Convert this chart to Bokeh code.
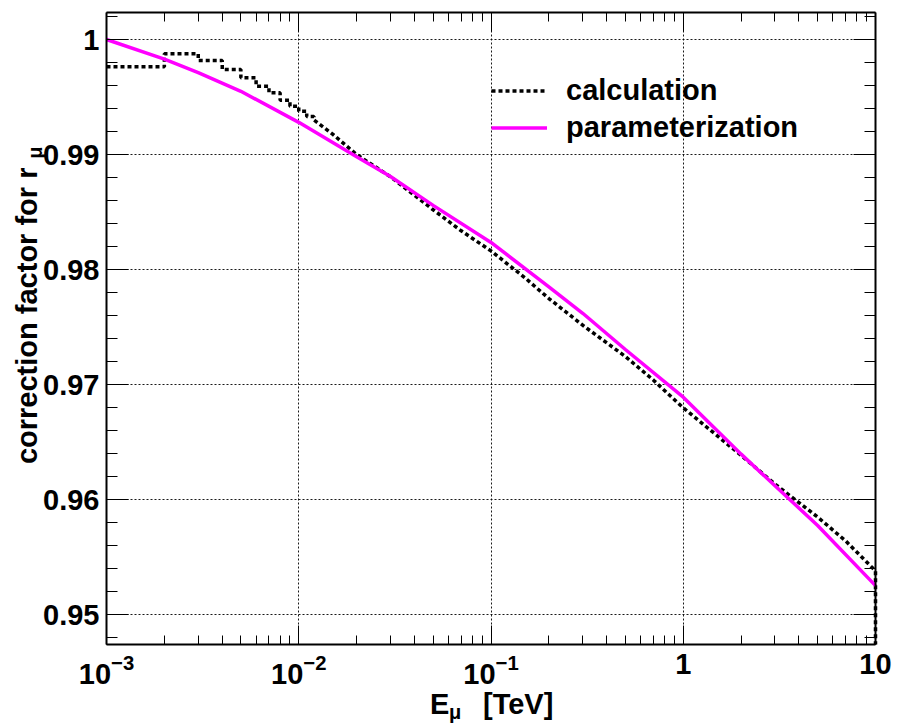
import math
from bokeh.plotting import figure
from bokeh.models import (Range1d, FixedTicker, LinearAxis, LogAxis, Label, Legend, LegendItem)
from bokeh.embed import file_html
from bokeh.resources import INLINE

# ---------------- data ----------------
# low-energy part of the calculation: histogram with linear bins of 1 GeV
calc_bin_edges = [0.001, 0.002, 0.003, 0.004, 0.005, 0.006, 0.007, 0.008, 0.009, 0.010, 0.011, 0.012]
calc_bin_vals = [0.99763, 0.99876, 0.99817, 0.99739, 0.99667, 0.99594, 0.99537, 0.99472, 0.99420, 0.99377, 0.99330]
# higher energies (bins too dense to resolve)
calc_E = [0.012, 0.015, 0.02, 0.03, 0.05, 0.07, 0.1, 0.15, 0.2, 0.3, 0.5, 0.7, 1.0, 2.0, 3.0, 5.0, 7.0, 10.0]
calc_vals = [0.99300, 0.99178, 0.99000, 0.98807, 0.98520, 0.98337, 0.98162, 0.97929, 0.97748, 0.97516,
             0.97244, 0.97038, 0.96798, 0.96384, 0.96135, 0.95848, 0.95640, 0.95380]

par_E = [0.001, 0.002, 0.003, 0.005, 0.01, 0.02, 0.03, 0.05, 0.1, 0.2, 0.3, 0.5, 1.0, 2.0, 3.0, 5.0, 10.0]
par_vals = [1.0, 0.99830, 0.99712, 0.99550, 0.99280, 0.98980, 0.98809, 0.98558, 0.98236, 0.97850,
            0.97620, 0.97305, 0.96890, 0.96395, 0.96120, 0.95775, 0.95252]

x_major = [1e-3, 1e-2, 1e-1, 1.0, 10.0]
y_major = [0.95, 0.96, 0.97, 0.98, 0.99, 1.0]
y_tick_labels = ["0.95", "0.96", "0.97", "0.98", "0.99", "1"]

X0, X1 = 1e-3, 10.0          # axis box, x
Y0, Y1 = 0.94740, 1.00235    # axis box, y

FONT = "Liberation Sans"

# ---------------- geometry (pixels inside the figure) ----------------
W, H = 895, 724
BOX_L, BOX_R, BOX_T, BOX_B = 106, 875, 12, 644
dec_px = (BOX_R - BOX_L) / (math.log10(X1) - math.log10(X0))
xr0 = 10 ** (math.log10(X0) - BOX_L / dec_px)
xr1 = 10 ** (math.log10(X1) + (W - BOX_R) / dec_px)
ppu = (BOX_B - BOX_T) / (Y1 - Y0)
yr1 = Y1 + BOX_T / ppu
yr0 = Y0 - (H - BOX_B) / ppu

p = figure(width=W, height=H, x_axis_type="log",
           x_range=Range1d(xr0, xr1), y_range=Range1d(yr0, yr1),
           output_backend="svg", toolbar_location=None,
           min_border_left=0, min_border_right=0, min_border_top=0, min_border_bottom=0)
p.title.visible = False
p.background_fill_color = "white"
p.border_fill_color = "white"
p.outline_line_color = None

x_minor = [m * 10.0 ** d for d in range(-3, 1) for m in range(2, 10)]
y_minor = [round(0.948 + 0.002 * k, 4) for k in range(28)]
xt = FixedTicker(ticks=x_major, minor_ticks=x_minor)
yt = FixedTicker(ticks=y_major, minor_ticks=y_minor)

bottom_axis = p.xaxis[0]
left_axis = p.yaxis[0]
top_axis = LogAxis()
right_axis = LinearAxis()
p.add_layout(top_axis, "above")
p.add_layout(right_axis, "right")

bottom_axis.fixed_location = Y0
top_axis.fixed_location = Y1
left_axis.fixed_location = X0
right_axis.fixed_location = X1

for ax in [bottom_axis, top_axis]:
    ax.ticker = xt
    ax.bounds = (X0, X1)
    ax.major_tick_in = 19
    ax.minor_tick_in = 9
for ax in [left_axis, right_axis]:
    ax.ticker = yt
    ax.bounds = (Y0, Y1)
    ax.major_tick_in = 22
    ax.minor_tick_in = 11
for ax in [bottom_axis, top_axis, left_axis, right_axis]:
    ax.major_tick_out = 0
    ax.minor_tick_out = 0
    ax.axis_line_width = 2
    ax.axis_line_color = "black"
    ax.major_tick_line_color = "black"
    ax.minor_tick_line_color = "black"
    ax.major_tick_line_width = 1
    ax.minor_tick_line_width = 1
    ax.major_label_text_font = FONT
    ax.major_label_text_font_style = "bold"
    ax.major_label_text_font_size = "29px"
    ax.major_label_text_color = "black"

bottom_axis.major_label_overrides = {1.0: "1", 10.0: "10"}
bottom_axis.major_label_standoff = 9
left_axis.major_label_overrides = {v: s for v, s in zip(y_major, y_tick_labels)}
left_axis.major_label_standoff = 7
top_axis.major_label_overrides = {v: " " for v in x_major}
top_axis.major_label_text_alpha = 0
right_axis.major_label_overrides = {v: " " for v in y_major}
right_axis.major_label_text_alpha = 0

p.xgrid.grid_line_color = "black"
p.ygrid.grid_line_color = "black"
p.grid.grid_line_width = 1
p.grid.grid_line_dash = "2 2"
p.grid.grid_line_alpha = 0.9
try:
    p.xgrid.cross_bounds = (Y0, Y1)
    p.ygrid.cross_bounds = (X0, X1)
except Exception:
    p.xgrid.visible = False
    p.ygrid.visible = False
    p.segment(x0=x_major, x1=x_major, y0=[Y0] * len(x_major), y1=[Y1] * len(x_major),
              line_color="black", line_width=1, line_dash="2 2", line_alpha=0.9)
    p.segment(x0=[X0] * len(y_major), x1=[X1] * len(y_major), y0=y_major, y1=y_major,
              line_color="black", line_width=1, line_dash="2 2", line_alpha=0.9)

# ---------------- curves ----------------
cx, cy = [], []
for i, v in enumerate(calc_bin_vals):
    cx += [calc_bin_edges[i], calc_bin_edges[i + 1]]
    cy += [v, v]
cx += calc_E + [calc_E[-1]]
cy += calc_vals + [Y0]   # histogram outline drops to the bottom at its last edge

calc_r = p.line(cx, cy, line_color="black", line_width=3.5, line_dash="4 3")
par_r = p.line(par_E, par_vals, line_color="#ff00ff", line_width=3.5)

legend = Legend(items=[LegendItem(label="calculation", renderers=[calc_r]),
                       LegendItem(label="parameterization", renderers=[par_r])],
                location=(491, 578))
legend.label_text_font = FONT
legend.label_text_font_style = "bold"
legend.label_text_font_size = "29px"
legend.label_text_color = "black"
legend.glyph_width = 56
legend.glyph_height = 37
legend.label_height = 37
legend.label_standoff = 19
legend.spacing = 0
legend.padding = 0
legend.margin = 0
legend.border_line_color = None
legend.background_fill_alpha = 0
p.add_layout(legend)

# ---------------- axis titles ----------------
xc = math.sqrt(X0 * X1)
title_kw = dict(text_baseline="alphabetic", text_font=FONT, text_font_style="bold", text_color="black")
p.add_layout(Label(x=xc, y=Y0, x_offset=-61, y_offset=-59, text="E", text_align="left",
                   text_font_size="29px", **title_kw))
p.add_layout(Label(x=xc, y=Y0, x_offset=-42, y_offset=-67, text="μ", text_align="left",
                   text_font_size="20px", **title_kw))
p.add_layout(Label(x=xc, y=Y0, x_offset=-8, y_offset=-59, text="[TeV]", text_align="left",
                   text_font_size="29px", **title_kw))

p.add_layout(Label(x=X0, y=Y1, x_offset=-80, y_offset=-147, angle=math.pi / 2,
                   text="correction factor for  r", text_align="right",
                   text_font_size="29px", **title_kw))
p.add_layout(Label(x=X0, y=Y1, x_offset=-72, y_offset=-134, angle=math.pi / 2,
                   text="μ", text_align="right", text_font_size="20px", **title_kw))

open("out.html", "w").write(file_html(p, INLINE))
